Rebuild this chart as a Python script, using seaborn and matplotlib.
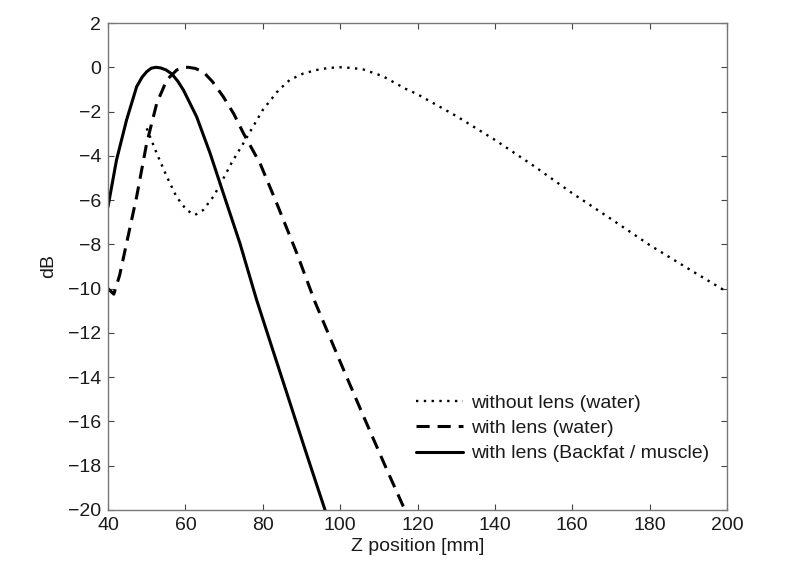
import matplotlib
matplotlib.use("Agg")
import matplotlib.pyplot as plt
import seaborn as sns
import pandas as pd

# ---- data ----
x_nolens = [50.0, 52.6, 55.2, 57.7, 60.3, 62.5, 64.6, 67.2, 69.0, 72.0, 75.0, 80.0,
            84.0, 87.0, 90.5, 94.0, 97.0, 100.0, 103.0, 106.0, 111.0, 117.0, 120.0,
            130.0, 140.0, 150.0, 160.0, 170.0, 180.0, 190.0, 200.0]
y_nolens = [-2.76, -3.89, -4.94, -5.85, -6.45, -6.67, -6.45, -5.85, -5.3, -4.3, -3.43, -1.93,
            -1.05, -0.57, -0.28, -0.12, -0.03, 0.0, -0.03, -0.1, -0.40, -0.98, -1.22,
            -2.2, -3.28, -4.45, -5.69, -6.85, -8.03, -9.1, -10.15]

x_lens_water = [40.0, 41.5, 43.0, 44.8, 47.4, 50.0, 52.6, 55.2, 57.8, 59.3, 60.7, 62.5,
                64.6, 67.0, 69.8, 72.5, 75.0, 79.3, 83.6, 88.8, 93.5, 100.0, 106.0,
                112.0, 117.0]
y_lens_water = [-10.0, -10.25, -9.4, -7.95, -5.85, -3.43, -1.63, -0.57, -0.12, -0.02, 0.0, -0.05,
                -0.2, -0.65, -1.33, -2.1, -2.98, -4.34, -6.14, -8.4, -10.6, -13.3, -15.75,
                -18.15, -20.1]

x_lens_tissue = [40.0, 42.2, 44.8, 47.4, 48.8, 50.0, 51.2, 52.4, 53.6, 55.0, 56.5, 58.0,
                 59.5, 62.9, 66.4, 69.8, 74.1, 78.4, 82.0, 86.0, 91.0, 96.1]
y_lens_tissue = [-6.3, -4.19, -2.38, -0.88, -0.45, -0.2, -0.04, 0.0, -0.03, -0.12, -0.3, -0.62,
                 -1.03, -2.23, -3.89, -5.69, -7.95, -10.5, -12.45, -14.6, -17.3, -20.0]

labels = ["without lens (water)", "with lens (water)", "with lens (Backfat / muscle)"]
x_ticks = list(range(40, 201, 20))
y_ticks = list(range(-20, 3, 2))

# ---- style ----
sns.set_theme(style="white")
plt.rcParams['font.family'] = ['Liberation Sans', 'DejaVu Sans']
FS = 14

fig = plt.figure(figsize=(7.99, 5.67), dpi=100)
ax = fig.add_axes([108/799, 57/567, 619/799, 487/567])

df1 = pd.DataFrame({"z": x_nolens, "db": y_nolens})
df2 = pd.DataFrame({"z": x_lens_water, "db": y_lens_water})
df3 = pd.DataFrame({"z": x_lens_tissue, "db": y_lens_tissue})

sns.lineplot(data=df1, x="z", y="db", ax=ax, color="black", linewidth=1.7,
             linestyle=(0, (1, 2.3)), label=labels[0])
sns.lineplot(data=df2, x="z", y="db", ax=ax, color="black", linewidth=2.2,
             linestyle=(0, (4.3, 2.6)), label=labels[1])
sns.lineplot(data=df3, x="z", y="db", ax=ax, color="black", linewidth=2.2,
             linestyle="-", label=labels[2])

ax.set_xlim(40, 200)
ax.set_ylim(-20, 2)
ax.set_xticks(x_ticks)
ax.set_yticks(y_ticks)
ax.set_yticklabels([str(v).replace("-", "\u2212") for v in y_ticks])
ax.set_xlabel("Z position [mm]", fontsize=FS, color="#1a1a1a", labelpad=3)
ax.set_ylabel("dB", fontsize=FS, color="#1a1a1a", labelpad=8)

ax.tick_params(direction="in", length=4.5, width=0.8, colors="#444444",
               labelcolor="#1a1a1a", labelsize=FS, top=True, right=True,
               bottom=True, left=True, pad=5)
for s in ax.spines.values():
    s.set_visible(True)
    s.set_color("#777777")
    s.set_linewidth(1.0)

leg = ax.legend(loc="upper left", bbox_to_anchor=(416/799, 1 - 394/567),
                bbox_transform=fig.transFigure, frameon=False, fontsize=FS,
                handlelength=2.4, handletextpad=0.45, labelspacing=0.4,
                borderpad=0, borderaxespad=0)
for t in leg.get_texts():
    t.set_color("#1a1a1a")

fig.savefig("out.png", dpi=100)
